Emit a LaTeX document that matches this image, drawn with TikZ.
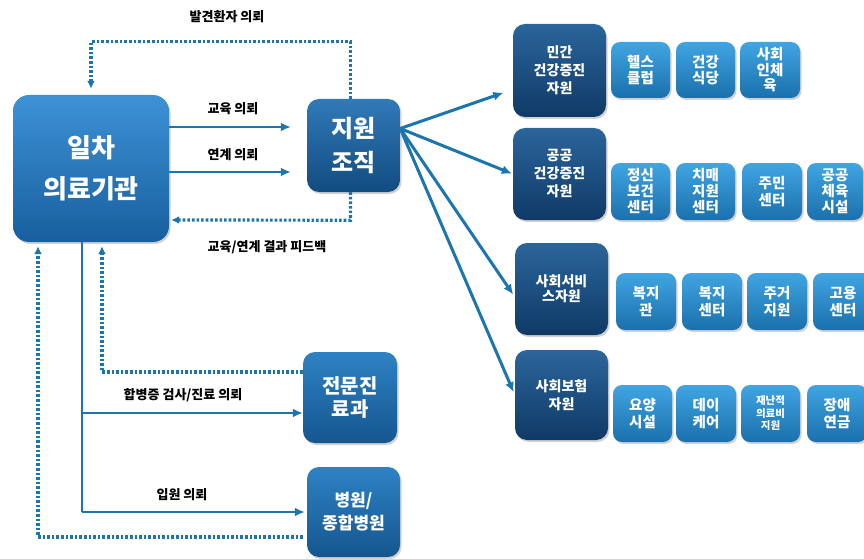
\documentclass[tikz,border=0pt]{standalone}
\usepackage{fontspec}
\setmainfont{Noto Sans CJK KR}
\usetikzlibrary{arrows.meta,shadows,calc}
\definecolor{arrcol}{HTML}{1B75AE}
\definecolor{primtop}{HTML}{3D92D6}
\definecolor{primbot}{HTML}{175F9E}
\definecolor{orgtop}{HTML}{3079B8}
\definecolor{orgbot}{HTML}{124C80}
\definecolor{bluetop}{HTML}{2E82C4}
\definecolor{bluebot}{HTML}{15568F}
\definecolor{darktop}{HTML}{2B659B}
\definecolor{darkbot}{HTML}{0F3A66}
\definecolor{lighttop}{HTML}{40A5E2}
\definecolor{lightbot}{HTML}{1A70AC}
\tikzset{
  boxbase/.style={draw=none, text=white, align=center, inner sep=0pt,
    drop shadow={opacity=0.35, shadow xshift=1.5pt, shadow yshift=-2pt}},
  primbox/.style={boxbase, rounded corners=16pt, top color=primtop, bottom color=primbot,
    font=\bfseries\fontsize{26}{41}\selectfont},
  orgbox/.style={boxbase, rounded corners=12pt, top color=orgtop, bottom color=orgbot,
    font=\bfseries\fontsize{24}{34}\selectfont},
  bluebox/.style={boxbase, rounded corners=12pt, top color=bluetop, bottom color=bluebot},
  darkbox/.style={boxbase, rounded corners=12pt, top color=darktop, bottom color=darkbot,
    minimum width=93pt, font=\bfseries\fontsize{14}{18}\selectfont},
  lightbox/.style={boxbase, rounded corners=9pt, top color=lighttop, bottom color=lightbot,
    minimum height=57pt, font=\bfseries\fontsize{14.5}{16.5}\selectfont},
  lbl/.style={font=\bfseries\fontsize{13}{15}\selectfont, text=black, inner sep=1pt},
  arr/.style={draw=arrcol, line width=2.8pt, -{Latex[length=10pt,width=9pt]}},
  plain/.style={draw=arrcol, line width=2.8pt},
  dotarr/.style={draw=arrcol, line width=3.2pt, dash pattern=on 2.6pt off 2pt,
    -{Latex[length=8pt,width=8pt]}},
}
\begin{document}
\begin{tikzpicture}[x=1pt,y=-1pt]
\useasboundingbox[fill=white] (0,0) rectangle (864,559);

% main nodes
\node[primbox, minimum width=156pt, minimum height=147pt] (prim) at (91,168.5) {일차\\의료기관};
\node[orgbox, minimum width=93pt, minimum height=93pt] (org) at (353.5,145.5) {지원\\조직};
\node[bluebox, minimum width=94pt, minimum height=91pt, font=\bfseries\fontsize{20}{23}\selectfont] (spec) at (350,397.5) {전문진\\료과};
\node[bluebox, minimum width=93pt, minimum height=90pt, font=\bfseries\fontsize{17}{23}\selectfont] (hosp) at (353.5,512) {병원/\\종합병원};

% right column
\node[darkbox, minimum height=93pt] (d1) at (559.5,70.5) {민간\\건강증진\\자원};
\node[darkbox, minimum height=92pt] (d2) at (559.5,174) {공공\\건강증진\\자원};
\node[darkbox, minimum height=92pt, font=\bfseries\fontsize{14}{15}\selectfont] (d3) at (561.5,289) {사회서비\\스자원};
\node[darkbox, minimum height=90pt] (d4) at (561.5,395) {사회보험\\자원};

% row 1
\node[lightbox, minimum width=59pt, minimum height=56pt] (r1a) at (640.5,70) {헬스\\클럽};
\node[lightbox, minimum width=59pt, minimum height=56pt] (r1b) at (705.5,70) {건강\\식당};
\node[lightbox, minimum width=60pt, minimum height=56pt, font=\bfseries\fontsize{14.5}{15.5}\selectfont] (r1c) at (770,70) {사회\\인체\\육};
% row 2
\node[lightbox, minimum width=59pt, font=\bfseries\fontsize{14.5}{16}\selectfont] (r2a) at (640.5,191.5) {정신\\보건\\센터};
\node[lightbox, minimum width=59pt, font=\bfseries\fontsize{14.5}{16}\selectfont] (r2b) at (705.5,191.5) {치매\\지원\\센터};
\node[lightbox, minimum width=60pt] (r2c) at (772,191.5) {주민\\센터};
\node[lightbox, minimum width=56pt, font=\bfseries\fontsize{14.5}{16}\selectfont] (r2d) at (835,191.5) {공공\\체육\\시설};
% row 3
\node[lightbox, minimum width=60pt] (r3a) at (646,301.5) {복지\\관};
\node[lightbox, minimum width=60pt] (r3b) at (712,301.5) {복지\\센터};
\node[lightbox, minimum width=60pt] (r3c) at (777,301.5) {주거\\지원};
\node[lightbox, minimum width=60pt] (r3d) at (843,301.5) {고용\\센터};
% row 4
\node[lightbox, minimum width=59pt] (r4a) at (642.5,413.5) {요양\\시설};
\node[lightbox, minimum width=60pt] (r4b) at (706,413.5) {데이\\케어};
\node[lightbox, minimum width=59pt, font=\bfseries\fontsize{10.5}{12.5}\selectfont] (r4c) at (770.5,413.5) {재난적\\의료비\\지원};
\node[lightbox, minimum width=60pt] (r4d) at (837,413.5) {장애\\연금};

% labels
\node[lbl] (l1) at (227,17) {발견환자 의뢰};
\node[lbl] (l2) at (233,109) {교육 의뢰};
\node[lbl] (l3) at (233,155) {연계 의뢰};
\node[lbl] (l4) at (267,247) {교육/연계 결과 피드백};
\node[lbl] (l5) at (183,395) {합병증 검사/진료 의뢰};
\node[lbl] (l6) at (182,495) {입원 의뢰};

% helper coordinates
\coordinate (e1) at (prim.east |- 0,127);
\coordinate (e2) at (prim.east |- 0,172);
\coordinate (o1) at (org.west |- 0,127);
\coordinate (o2) at (org.west |- 0,172);
\coordinate (j1) at (82,413);
\coordinate (j2) at (82,512);
\coordinate (s1) at (spec.west |- 0,372);
\coordinate (h1) at (hosp.west |- 0,537);

% top/middle connections
\draw[arr, shorten >=16pt] (e1) -- (o1);
\draw[arr, shorten >=16pt] (e2) -- (o2);
\draw[dotarr, shorten >=6pt] ([xshift=-3pt]org.north) -- ++(0,-57) -| (prim.north);
\draw[dotarr, shorten >=2pt] ([xshift=-3pt]org.south) -- ++(0,28) -- (prim.east |- 0,220);

% fan to right column
\coordinate (fo) at ([yshift=17pt]org.east);
\draw[arr, line width=3pt, shorten >=10pt] (fo) -- ([yshift=-19pt]d1.west);
\draw[arr, line width=3pt, shorten >=1pt] (fo) -- (d2.west);
\draw[arr, line width=3pt, shorten >=3pt] (fo) -- ([yshift=-8pt]d3.west);
\draw[arr, line width=3pt, shorten >=3pt] (fo) -- (d4.west);

% bottom connections
\draw[plain] ([xshift=-9pt]prim.south) -- (j2);
\draw[arr] (j1) -- (spec.west |- j1);
\draw[arr, shorten >=2pt] (j2) -- (hosp.west |- j2);
\draw[dotarr, shorten >=4pt] (s1) -| ([xshift=11pt]prim.south);
\draw[dotarr, shorten >=4pt] ([xshift=-4pt]h1) -| ([xshift=-53pt]prim.south);
\end{tikzpicture}
\end{document}
